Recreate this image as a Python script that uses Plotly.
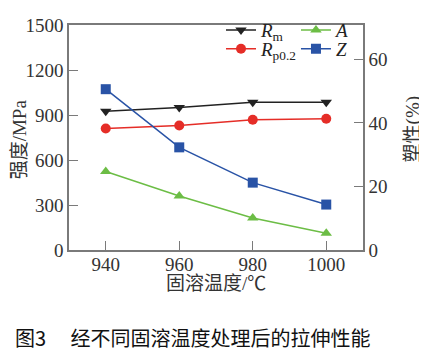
import plotly.graph_objects as go

temps = [940, 960, 980, 1000]
rm = [925, 950, 985, 985]
rp02 = [810, 830, 868, 875]
a_pct = [24.7, 17.0, 10.1, 5.3]
z_pct = [50.6, 32.3, 21.2, 14.3]
left_ticks = [0, 300, 600, 900, 1200, 1500]
right_ticks = [0, 20, 40, 60]

serif = "Times New Roman, Liberation Serif, serif"
mixed = "Times New Roman, Liberation Serif, Noto Sans CJK SC"
cjk = "Noto Sans CJK SC"
axis_col = "#7a7a7a"
txt_col = "#333333"

fig = go.Figure()
fig.add_trace(go.Scatter(x=temps, y=rm, mode="lines+markers", name="<i>R</i><sub>m</sub>",
                         line=dict(color="#222222", width=1.5),
                         marker=dict(symbol="triangle-down", size=10, color="#222222"),
                         legend="legend"))
fig.add_trace(go.Scatter(x=temps, y=a_pct, mode="lines+markers", name="<i>A</i>",
                         line=dict(color="#6cbd45", width=1.5),
                         marker=dict(symbol="triangle-up", size=10, color="#6cbd45"),
                         yaxis="y2", legend="legend2"))
fig.add_trace(go.Scatter(x=temps, y=rp02, mode="lines+markers", name="<i>R</i><sub>p0.2</sub>",
                         line=dict(color="#e52d27", width=1.5),
                         marker=dict(symbol="circle", size=10, color="#e52d27"),
                         legend="legend3"))
fig.add_trace(go.Scatter(x=temps, y=z_pct, mode="lines+markers", name="<i>Z</i>",
                         line=dict(color="#2953a6", width=1.5),
                         marker=dict(symbol="square", size=10, color="#2953a6"),
                         yaxis="y2", legend="legend4"))

leg_common = dict(bgcolor="rgba(0,0,0,0)", font=dict(family=serif, size=19, color="#222"),
                  itemwidth=30, yanchor="middle", xanchor="left")

# page has an 8px body margin, so the figure is sized/offset to compensate
fig.update_layout(
    width=419, height=354,
    margin=dict(l=61, r=64, t=3, b=112),
    paper_bgcolor="white", plot_bgcolor="white",
    showlegend=True,
    legend=dict(x=0.517, y=0.977, **leg_common),
    legend2=dict(x=0.772, y=0.977, **leg_common),
    legend3=dict(x=0.517, y=0.894, **leg_common),
    legend4=dict(x=0.772, y=0.894, **leg_common),
    xaxis=dict(range=[930, 1010], tickvals=temps, ticks="inside", ticklen=9,
               tickcolor=axis_col, showline=True, linecolor=axis_col, linewidth=1.5,
               mirror=True, showgrid=False, zeroline=False, automargin=False,
               ticklabelstandoff=-4, ticklabeloverflow="allow",
               tickfont=dict(family=serif, size=19, color=txt_col)),
    yaxis=dict(range=[0, 1500], tickvals=left_ticks, ticks="inside", ticklen=9,
               tickcolor=axis_col, showline=True, linecolor=axis_col, linewidth=1.5,
               showgrid=False, zeroline=False, automargin=False, ticklabeloverflow="allow",
               tickfont=dict(family=serif, size=19, color=txt_col)),
    yaxis2=dict(range=[0, 70.8], tickvals=right_ticks, ticks="inside", ticklen=9,
                tickcolor=axis_col, showline=True, linecolor=axis_col, linewidth=1.5,
                overlaying="y", side="right", showgrid=False, zeroline=False, automargin=False,
                ticklabeloverflow="allow",
                tickfont=dict(family=serif, size=19, color=txt_col)),
    annotations=[
        dict(text="固溶温度/℃", xref="paper", yref="paper", x=0.5, y=-0.15,
             xanchor="center", yanchor="middle", showarrow=False,
             font=dict(family=mixed, size=19, color=txt_col)),
        dict(text="强度/MPa", xref="paper", yref="paper", x=-0.168, y=0.49, textangle=-90,
             xanchor="center", yanchor="middle", showarrow=False,
             font=dict(family=mixed, size=19, color=txt_col)),
        dict(text="塑性(%)", xref="paper", yref="paper", x=1.17, y=0.536, textangle=-90,
             xanchor="center", yanchor="middle", showarrow=False,
             font=dict(family=mixed, size=19, color=txt_col)),
        dict(text="图3　 经不同固溶温度处理后的拉伸性能", xref="paper", yref="paper",
             x=-0.19, y=-0.39, xanchor="left", yanchor="middle", showarrow=False,
             font=dict(family=cjk, size=20, color="#111")),
    ],
)

fig.write_html("out.html")
